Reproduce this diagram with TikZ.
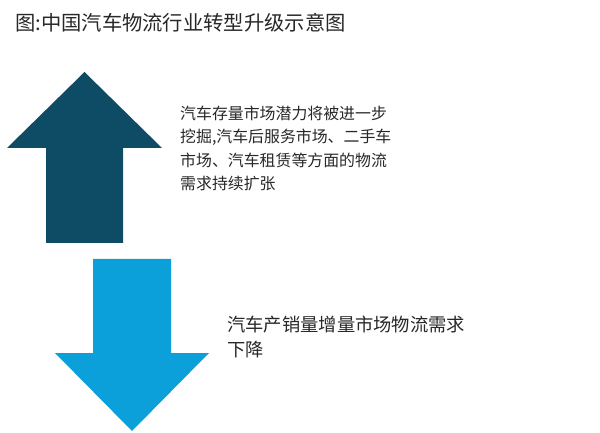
\documentclass[tikz,border=0pt]{standalone}
\usepackage{fontspec}
\newfontfamily\cjk{Noto Sans CJK SC}
\definecolor{darkteal}{RGB}{14,76,102}
\definecolor{lightblue}{RGB}{12,160,218}
\definecolor{txtgray}{RGB}{40,40,40}
\tikzset{
  lbl/.style={inner sep=0pt, anchor=north west, align=left, text=txtgray},
}
\begin{document}
\begin{tikzpicture}[x=1bp,y=-1bp]
\useasboundingbox (0,0) rectangle (600,433);
\fill[white] (0,0) rectangle (600,433);
% title
\node[lbl, font={\cjk\fontsize{20.3bp}{24bp}\selectfont}] (title) at (15,13) {图:中国汽车物流行业转型升级示意图};
% up arrow
\fill[darkteal] (84.5,72) -- (162,148) -- (123,148) -- (123,243) -- (46,243) -- (46,148) -- (7,148) -- cycle;
% down arrow
\fill[lightblue] (93,259) -- (171,259) -- (171,353) -- (209,353) -- (132,431) -- (55,353) -- (93,353) -- cycle;
% texts
\node[lbl, font={\cjk\fontsize{15.9bp}{23.3bp}\selectfont}] (uptext) at (180,106)
  {汽车存量市场潜力将被进一步\\挖掘,汽车后服务市场、二手车\\市场、汽车租赁等方面的物流\\需求持续扩张};
\node[lbl, font={\cjk\fontsize{18.3bp}{25bp}\selectfont}] (downtext) at (227,316)
  {汽车产销量增量市场物流需求\\下降};
\end{tikzpicture}
\end{document}
